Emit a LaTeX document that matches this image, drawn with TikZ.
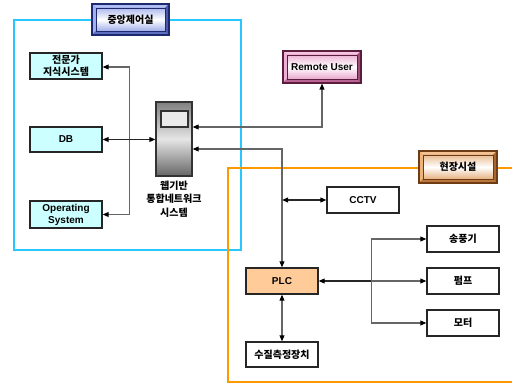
\documentclass[tikz,border=0pt]{standalone}
\usepackage{fontspec}
\setmainfont{Liberation Sans}
\newfontfamily\kr{Noto Sans CJK KR}
\usetikzlibrary{arrows.meta,calc}
\definecolor{cyanline}{RGB}{40,200,255}
\definecolor{orangeline}{RGB}{255,153,0}
\definecolor{cyanfill}{RGB}{204,255,255}
\definecolor{plcfill}{RGB}{255,204,153}
\definecolor{bluebase}{RGB}{120,140,225}
\definecolor{bluedark}{RGB}{30,40,110}
\definecolor{bluelight}{RGB}{175,190,245}
\definecolor{pinkbase}{RGB}{225,130,185}
\definecolor{pinkdark}{RGB}{90,30,60}
\definecolor{pinklight}{RGB}{245,195,225}
\definecolor{orgbase}{RGB}{220,145,75}
\definecolor{orgdark}{RGB}{110,60,20}
\definecolor{orglight}{RGB}{245,195,145}
\tikzset{
  Tk/.tip={Triangle[length=4.5pt,width=3.6pt,color=black]},
  bevel/.style n args={3}{draw=#2, line width=0.8pt, fill=#1, inner sep=0pt,
    path picture={
      \coordinate (pnw) at (path picture bounding box.north west);
      \coordinate (pne) at (path picture bounding box.north east);
      \coordinate (psw) at (path picture bounding box.south west);
      \coordinate (pse) at (path picture bounding box.south east);
      \fill[#3] (pnw) -- (pne) -- ($(pne)+(-3pt,-3pt)$) -- ($(pnw)+(3pt,-3pt)$) -- cycle;
      \fill[#3!70!#1] (pnw) -- (psw) -- ($(psw)+(3pt,3pt)$) -- ($(pnw)+(3pt,-3pt)$) -- cycle;
      \fill[#1!70!#2] (psw) -- (pse) -- ($(pse)+(-3pt,3pt)$) -- ($(psw)+(3pt,3pt)$) -- cycle;
      \fill[#1!50!#2] (pse) -- (pne) -- ($(pne)+(-3pt,-3pt)$) -- ($(pse)+(-3pt,3pt)$) -- cycle;
      \shade[top color=#1!60!white, bottom color=#1!70!white, middle color=white, draw=#2, line width=0.4pt]
        ($(psw)+(3pt,3pt)$) rectangle ($(pne)+(-3pt,-3pt)$);
    }},
}
\begin{document}
\begin{tikzpicture}[x=0.75pt,y=-0.75pt,
  every node/.style={font=\fontsize{7.5}{9}\selectfont\bfseries},
  box/.style={draw=black!85, line width=0.9pt, minimum width=54pt, minimum height=19.5pt, inner sep=0pt, align=center},
  ln/.style={draw=black!60, line width=0.8pt},
  lnk/.style={draw=black!85, line width=0.9pt},
]
\useasboundingbox (0,0) rectangle (512,385);
% areas
\draw[cyanline, line width=1.3pt] (14,20) rectangle (241,250);
\draw[orangeline, line width=1.3pt] (516,168) -- (228,168) -- (228,382) -- (516,382);
% labels
\node[bevel={bluebase}{bluedark}{bluelight}, minimum width=57.75pt, minimum height=23.25pt] (ctrl) at (130.5,19.5) {\kr 중앙제어실};
\node[bevel={pinkbase}{pinkdark}{pinklight}, minimum width=58.5pt, minimum height=24pt] (remote) at (322,67) {Remote User};
\node[bevel={orgbase}{orgdark}{orglight}, minimum width=58.5pt, minimum height=24pt] (field) at (458,167) {\kr 현장시설};
% central room
\node[box, fill=cyanfill] (expert) at (66,66) {\kr 전문가\\\kr 지식시스템};
\node[box, fill=cyanfill, minimum height=18.75pt] (db) at (66,139.5) {DB};
\node[box, fill=cyanfill, minimum height=20.25pt] (os) at (66,214.5) {Operating\\System};
\node[draw=black!80, line width=0.9pt, minimum width=27pt, minimum height=55.5pt, inner sep=0pt,
  top color=black!50, bottom color=black!60, middle color=black!10] (server) at (174,139) {};
\node[draw=black!80, line width=0.8pt, minimum width=20.25pt, minimum height=12pt, inner sep=0pt,
  fill=black!8] (screen) at (174.5,119) {};
\node[align=center, font=\fontsize{7.5}{10}\selectfont\bfseries\kr] (srvtxt) at (174,199) {웹기반\\통합네트워크\\시스템};
% field
\node[box, fill=white] (cctv) at (363,200) {CCTV};
\node[box, fill=plcfill] (plc) at (282,281) {PLC};
\node[box, fill=white, minimum height=18.75pt] (sensor) at (282,354.5) {\kr 수질측정장치};
\node[box, fill=white] (blower) at (463,239) {\kr 송풍기};
\node[box, fill=white] (pump) at (463,281) {\kr 펌프};
\node[box, fill=white] (motor) at (463,323) {\kr 모터};
% connectors central
\coordinate (b1) at ($(expert.east)+(27,1)$);
\coordinate (b2) at ($(os.east)+(27,0)$);
\draw[ln,-Tk] (b1) -- (b1 -| expert.east);
\draw[ln] (b1) -- (b2);
\draw[ln,-Tk] (b2) -- (os.east);
\draw[lnk,Tk-Tk] (db.east) -- (db.east -| server.west);
\draw[ln,Tk-Tk] ($(server.east)+(0,-12)$) -| (remote.south);
\draw[ln,Tk-Tk] ($(server.east)+(0,10)$) -| (plc.north);
% connectors field
\coordinate (c1) at (plc.north |- cctv.west);
\draw[lnk,Tk-Tk] (c1) -- (cctv.west);
\draw[ln,Tk-Tk] (plc.south) -- (sensor.north);
\coordinate (j1) at ($(pump.west)+(-55,0)$);
\coordinate (j0) at (j1 |- blower.west);
\coordinate (j2) at (j1 |- motor.west);
\draw[lnk,Tk-] (plc.east) -- (j1);
\draw[ln,-Tk] (j1) -- (pump.west);
\draw[ln] (j0) -- (j2);
\draw[ln,-Tk] (j0) -- (blower.west);
\draw[ln,-Tk] (j2) -- (motor.west);
\end{tikzpicture}
\end{document}
